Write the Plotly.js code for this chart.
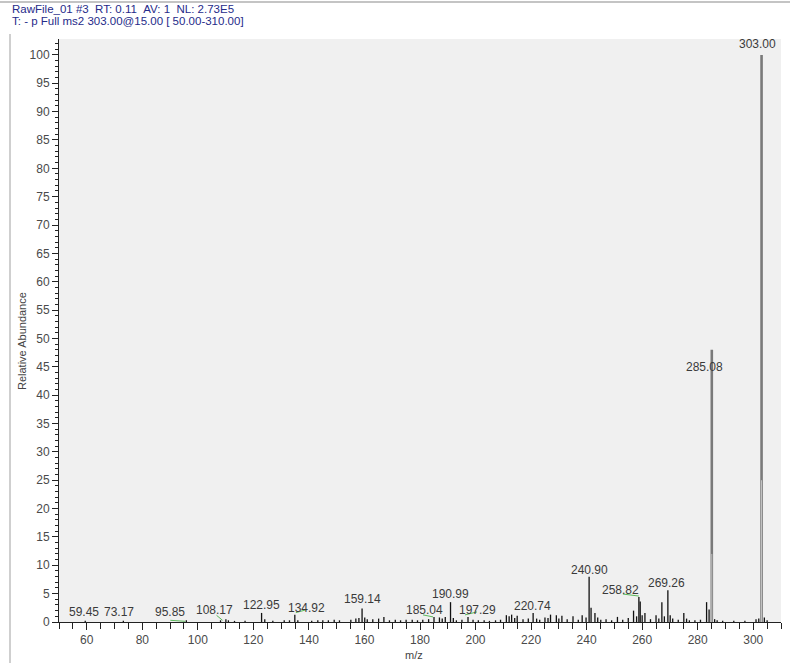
<!DOCTYPE html>
<html>
<head>
<meta charset="utf-8">
<script src="https://cdn.plot.ly/plotly-3.0.1.min.js"></script>
<style>html,body{margin:0;padding:0;background:#fff;}#chart{width:790px;height:663px;}</style>
</head>
<body>
<div id="chart"></div>
<script>
// ---------------- DATA ----------------
const headerLines = [
  "RawFile_01 #3\u00a0\u00a0RT: 0.11\u00a0\u00a0AV: 1\u00a0\u00a0NL: 2.73E5",
  "T: - p Full ms2 303.00@15.00 [ 50.00-310.00]"
];
const xTitle = "m/z";
const yTitle = "Relative Abundance";

const peakMz = [
  59.45, 73.17, 95.85, 108.17, 110.1, 111.0, 113.2, 117.0, 122.95, 124.1, 127.0,
  131.1, 133.0, 134.92, 136.0, 141.0, 143.2, 145.0, 147.0, 149.1, 151.0, 155.1,
  156.9, 158.0, 159.14, 160.1, 161.0, 163.0, 165.1, 167.0, 169.0, 171.1, 173.0,
  175.0, 177.2, 179.1, 181.0, 183.1, 185.04, 187.0, 188.0, 189.1, 190.99, 192.0,
  193.1, 195.1, 197.29, 199.1, 201.0, 203.1, 205.0, 207.2, 209.0, 211.1, 212.1,
  213.0, 214.1, 215.0, 217.1, 219.0, 220.74, 222.0, 223.1, 225.0, 226.1, 227.0,
  229.1, 230.0, 231.1, 233.0, 235.1, 237.0, 238.4, 239.8, 240.90, 241.6, 243.0,
  244.0, 245.1, 247.0, 249.0, 251.1, 253.0, 255.0, 256.9, 258.0, 258.82, 259.3,
  260.0, 261.0, 263.0, 265.0, 266.0, 267.1, 268.0, 269.26, 270.1, 271.0, 273.0,
  275.0, 276.0, 277.0, 279.0, 281.0, 283.2, 284.1, 285.08, 286.1, 287.0, 289.0,
  293.0, 297.0, 301.0, 302.0, 303.00, 304.0, 305.0
];
const peakInt = [
  0.2, 0.2, 0.3, 0.3, 0.5, 0.3, 0.2, 0.2, 1.6, 0.5, 0.2,
  0.3, 0.3, 1.3, 0.3, 0.2, 0.3, 0.3, 0.3, 0.4, 0.3, 0.4,
  0.6, 0.7, 2.4, 0.8, 0.5, 0.5, 0.6, 0.9, 0.3, 0.4, 0.3,
  0.4, 0.4, 0.3, 0.4, 0.5, 0.9, 0.8, 0.6, 0.9, 3.5, 0.7,
  0.3, 0.4, 0.9, 0.4, 0.3, 0.3, 0.2, 0.3, 0.4, 1.2, 1.0,
  1.3, 0.7, 1.1, 0.5, 0.6, 1.6, 0.6, 0.4, 0.8, 0.7, 1.3,
  1.2, 0.6, 1.1, 0.5, 1.0, 0.4, 1.2, 0.8, 8.0, 2.5, 1.6,
  0.8, 0.4, 0.5, 0.3, 0.9, 0.4, 0.7, 2.0, 1.0, 4.4, 3.6,
  1.2, 1.6, 0.5, 1.2, 0.6, 3.5, 1.0, 5.6, 1.2, 0.6, 0.4,
  1.6, 0.6, 0.3, 0.3, 0.4, 3.5, 2.2, 48.0, 0.5, 0.3, 0.2,
  0.2, 0.2, 0.5, 0.6, 100.0, 0.8, 0.3
];
const labelMz = [59.45, 73.17, 95.85, 108.17, 122.95, 134.92, 159.14, 185.04,
  190.99, 197.29, 220.74, 240.90, 258.82, 269.26, 285.08, 303.00];
const leaderMz = [95.85, 108.17, 134.92, 185.04, 197.29, 258.82];

const xTickVals = [60, 80, 100, 120, 140, 160, 180, 200, 220, 240, 260, 280, 300];
const yTickVals = [0,5,10,15,20,25,30,35,40,45,50,55,60,65,70,75,80,85,90,95,100];

// ---------------- LAYOUT / STYLE ----------------
const W = 790, H = 663;
const PL = 59, PR = 781, PT = 39, PB = 622;
const px2paperX = p => (p - PL) / (PR - PL);
const px2paperY = p => (PB - p) / (PB - PT);

// label offsets (pixels) relative to the labelled peak's apex: [xshift, yshift(up)]
const labelOffsets = {
  "59.45": [-1, 9], "73.17": [-4, 9], "95.85": [-16, 8], "108.17": [-6, 10],
  "122.95": [0, 8], "134.92": [12, 7], "159.14": [0, 9], "185.04": [-10, 7],
  "190.99": [0, 8], "197.29": [9, 7], "220.74": [-1, 7], "240.90": [0, 7],
  "258.82": [-18, 7], "269.26": [-1, 7], "285.08": [-7, -17], "303.00": [-4, 11]
};
// leader line pixel offsets relative to peak apex: [x0, y0, x1, y1] (y up)
const leaderOffsets = {
  "95.85": [-16, 0, -1, -1], "108.17": [-4, 5, 2, 0], "134.92": [1, 2, 12, 5],
  "185.04": [-11, 2, -1, 0], "197.29": [-3, 2, 9, 5], "258.82": [-16, 3, 0, 1]
};

const intOf = m => peakInt[peakMz.findIndex(v => Math.abs(v - m) < 1e-6)];

// sticks
const TALL = 20;
const sx = [], sy = [], tx = [], ty = [];
peakMz.forEach((m, i) => {
  const h = peakInt[i];
  if (h >= TALL) { tx.push(m, m, null); ty.push(0, h, null); }
  else { sx.push(m, m, null); sy.push(0, h, null); }
});

const traces = [
  { type: 'scatter', mode: 'lines', x: tx, y: ty, line: {color: '#7a7a7a', width: 2.6},
    hoverinfo: 'skip', showlegend: false, cliponaxis: false },
  { type: 'scatter', mode: 'lines', x: tx, y: ty.map(v => v === null ? null : v * 0.25), line: {color: '#d8d8d8', width: 0.8},
    hoverinfo: 'skip', showlegend: false },
  { type: 'scatter', mode: 'lines', x: sx, y: sy, line: {color: '#111', width: 1.3},
    hoverinfo: 'skip', showlegend: false }
];

const font = "Arial, 'Liberation Sans', sans-serif";
const annotations = [];
headerLines.forEach((t, i) => {
  annotations.push({ xref: 'paper', yref: 'paper', x: px2paperX(10), y: px2paperY(9 + 12 * i),
    xanchor: 'left', yanchor: 'middle', showarrow: false, text: t,
    font: {family: font, size: 11.5, color: '#262b8a'} });
});
labelMz.forEach(m => {
  const k = m.toFixed(2);
  const off = labelOffsets[k] || [0, 8];
  annotations.push({ xref: 'x', yref: 'y', x: m, y: intOf(m), xanchor: 'center', yanchor: 'middle',
    xshift: off[0], yshift: off[1], showarrow: false, text: k,
    font: {family: font, size: 12, color: '#3a3a3a'} });
});
annotations.push({ xref: 'paper', yref: 'paper', x: px2paperX(22), y: px2paperY(341),
  xanchor: 'center', yanchor: 'middle', textangle: -90, showarrow: false, text: yTitle,
  font: {family: font, size: 11, color: '#444'} });
annotations.push({ xref: 'paper', yref: 'paper', x: px2paperX(414), y: px2paperY(655),
  xanchor: 'center', yanchor: 'middle', showarrow: false, text: xTitle,
  font: {family: font, size: 11, color: '#444'} });

const shapes = [];
leaderMz.forEach(m => {
  const o = leaderOffsets[m.toFixed(2)];
  shapes.push({ type: 'line', xref: 'x', yref: 'y', xsizemode: 'pixel', ysizemode: 'pixel',
    xanchor: m, yanchor: intOf(m), x0: o[0], y0: o[1], x1: o[2], y1: o[3],
    line: {color: '#5cb85c', width: 1} });
});
// window frame lines
shapes.push({ type: 'line', xref: 'paper', yref: 'paper', x0: px2paperX(0), x1: px2paperX(W),
  y0: px2paperY(2), y1: px2paperY(2), line: {color: '#c4c4c4', width: 2} });
shapes.push({ type: 'line', xref: 'paper', yref: 'paper', x0: px2paperX(10), x1: px2paperX(10),
  y0: px2paperY(34), y1: px2paperY(H), line: {color: '#cfcfcf', width: 2} });

const axisCommon = {
  showgrid: false, zeroline: false, showline: true, linecolor: '#222', linewidth: 1,
  ticks: 'outside', tickcolor: '#222', tickwidth: 1,
  tickfont: {family: font, size: 12, color: '#4a4a4a'}, mirror: false, fixedrange: true
};

const layout = {
  width: W, height: H,
  margin: {l: PL, r: W - PR, t: PT, b: H - PB, pad: 0},
  paper_bgcolor: '#ffffff', plot_bgcolor: '#f0f0f0',
  showlegend: false,
  xaxis: Object.assign({}, axisCommon, {
    range: [50, 310], tickmode: 'array', tickvals: xTickVals, ticklen: 7,
    minor: {dtick: 5, tick0: 0, ticks: 'outside', ticklen: 6, tickcolor: '#222', tickwidth: 1}
  }),
  yaxis: Object.assign({}, axisCommon, {
    range: [0, 102.8], tickmode: 'array', tickvals: yTickVals, ticklen: 6,
    minor: {dtick: 1, tick0: 0, ticks: 'outside', ticklen: 3, tickcolor: '#222', tickwidth: 1}
  }),
  annotations: annotations,
  shapes: shapes
};

Plotly.newPlot('chart', traces, layout, {displayModeBar: false, staticPlot: true});
</script>
</body>
</html>
